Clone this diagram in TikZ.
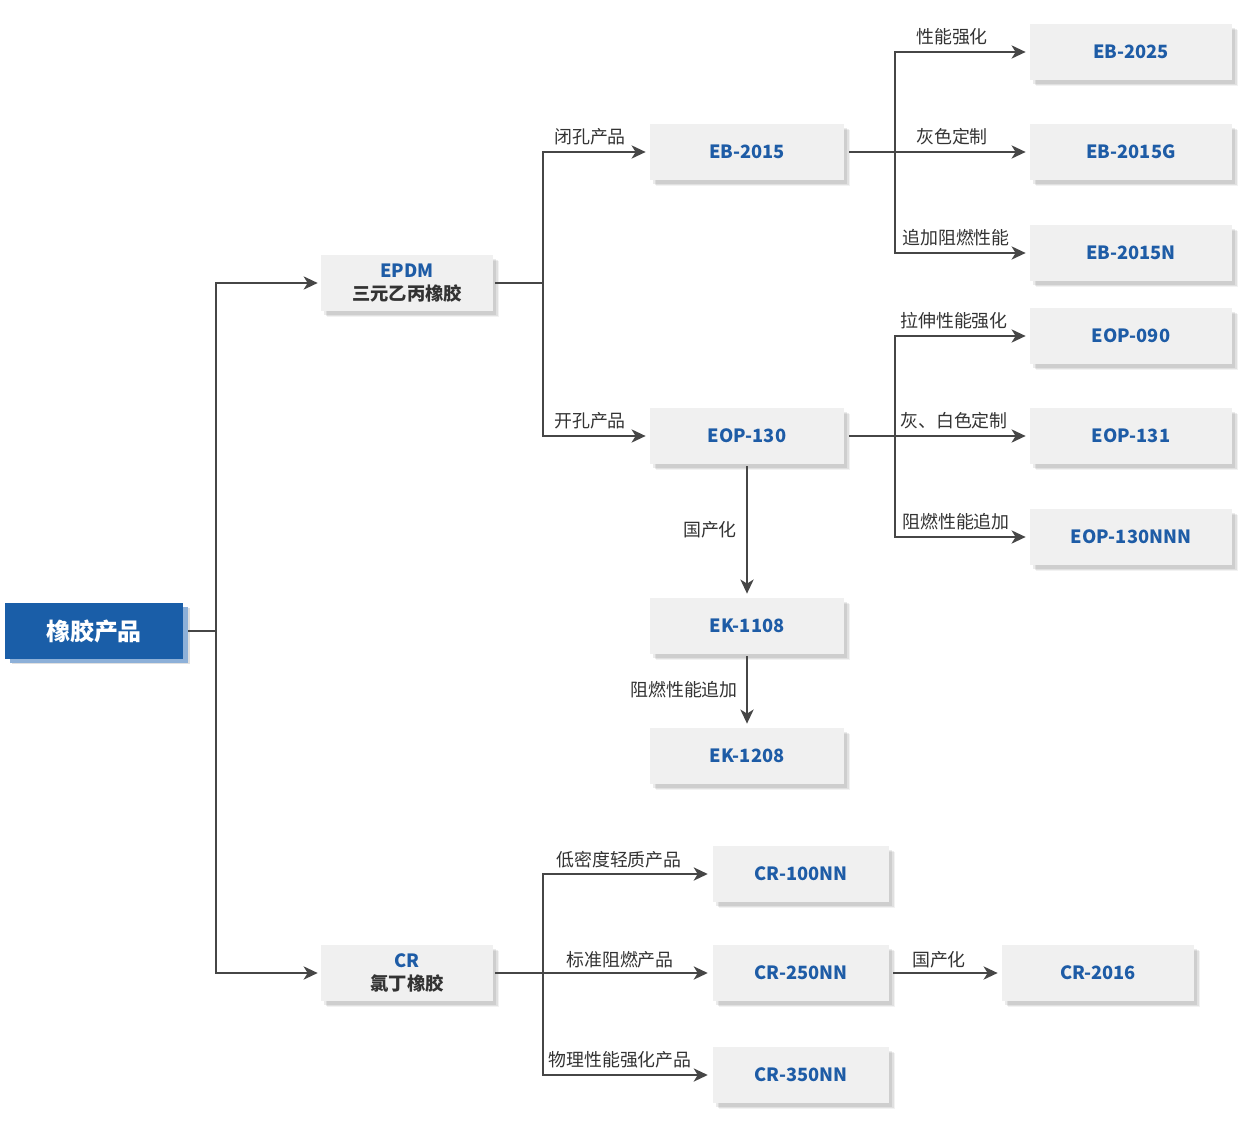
\documentclass[tikz,border=0pt]{standalone}
\usepackage{fontspec}
\setmainfont{Noto Sans CJK SC}
\usetikzlibrary{arrows.meta,shadows}
\definecolor{boxfill}{HTML}{F0F0F0}
\definecolor{bluetext}{HTML}{1E5CA6}
\definecolor{rootblue}{HTML}{1A5EA8}
\definecolor{rootshadow}{HTML}{8DB0D8}
\definecolor{linegray}{HTML}{464646}
\definecolor{labelgray}{HTML}{333333}
\begin{document}
\begin{tikzpicture}[x=0.02cm,y=-0.02cm,
  softshadow/.style={
    drop shadow={shadow xshift=3.4pt, shadow yshift=-3.6pt, opacity=0.05, fill=black},
    drop shadow={shadow xshift=2.6pt, shadow yshift=-2.8pt, opacity=0.07, fill=black},
    drop shadow={shadow xshift=1.8pt, shadow yshift=-2pt, opacity=0.08, fill=black}},
  prod/.style={fill=boxfill, minimum height=1.12cm, minimum width=3.88cm, inner sep=0pt,
    text=bluetext, font=\bfseries\fontsize{10.4}{13}\selectfont, softshadow},
  cat/.style={prod, minimum width=3.44cm, align=center},
  rootbox/.style={fill=rootblue, minimum height=1.12cm, minimum width=3.56cm, inner sep=0pt,
    text=white, font=\bfseries\fontsize{13.6}{15}\selectfont,
    drop shadow={shadow xshift=4pt, shadow yshift=-3pt, opacity=0.12, fill=black},
    drop shadow={shadow xshift=2.8pt, shadow yshift=-2.4pt, opacity=1, fill=rootshadow}},
  conn/.style={draw=linegray, line width=1.2pt, -{Stealth[length=8pt,width=7.5pt,inset=2.3pt]}},
  plain/.style={draw=linegray, line width=1.2pt},
  lbl/.style={text=labelgray, font=\fontsize{10.2}{11}\selectfont, inner sep=0pt}
]
\useasboundingbox[fill=white] (0,0) rectangle (1250,1125);

% nodes
\node[rootbox] (root) at (94,631) {橡胶产品};
\node[cat] (epdm) at (407,283) {{\color{bluetext}EPDM}\\{\color{labelgray}三元乙丙橡胶}};
\node[cat] (cr) at (407,973) {{\color{bluetext}CR}\\{\color{labelgray}氯丁橡胶}};

\node[prod] (eb2015) at (747,152) {EB-2015};
\node[prod] (eop130) at (747,436) {EOP-130};
\node[prod] (ek1108) at (747,626) {EK-1108};
\node[prod] (ek1208) at (747,756) {EK-1208};

\node[prod, minimum width=4.04cm] (eb2025) at (1131,52) {EB-2025};
\node[prod, minimum width=4.04cm] (eb2015g) at (1131,152) {EB-2015G};
\node[prod, minimum width=4.04cm] (eb2015n) at (1131,253) {EB-2015N};
\node[prod, minimum width=4.04cm] (eop090) at (1131,336) {EOP-090};
\node[prod, minimum width=4.04cm] (eop131) at (1131,436) {EOP-131};
\node[prod, minimum width=4.04cm] (eop130n) at (1131,537) {EOP-130NNN};

\node[prod, minimum width=3.52cm] (cr100) at (801,874) {CR-100NN};
\node[prod, minimum width=3.52cm] (cr250) at (801,973) {CR-250NN};
\node[prod, minimum width=3.52cm] (cr350) at (801,1075) {CR-350NN};
\node[prod, minimum width=3.84cm] (cr2016) at (1098,973) {CR-2016};

% junctions
\coordinate (j0) at (216,631);
\coordinate (j1) at (543,283);
\coordinate (j2) at (895,152);
\coordinate (j3) at (895,436);
\coordinate (j4) at (543,973);

% connectors
\draw[plain, shorten <=2.8pt] (root.east) -- (j0);
\draw[conn, shorten >=1.7pt] (j0) |- (epdm.west);
\draw[conn, shorten >=1.7pt] (j0) |- (cr.west);

\draw[plain, shorten <=1.1pt] (epdm.east) -- (j1);
\draw[conn, shorten >=2.3pt] (j1) |- (eb2015.west);
\draw[conn, shorten >=2.3pt] (j1) |- (eop130.west);

\draw[plain, shorten <=2.8pt] (eb2015.east) -- (j2);
\draw[conn, shorten >=2.3pt] (j2) |- (eb2025.west);
\draw[conn, shorten >=2.3pt] (j2) -- (eb2015g.west);
\draw[conn, shorten >=2.3pt] (j2) |- (eb2015n.west);

\draw[plain, shorten <=2.8pt] (eop130.east) -- (j3);
\draw[conn, shorten >=2.3pt] (j3) |- (eop090.west);
\draw[conn, shorten >=2.3pt] (j3) -- (eop131.west);
\draw[conn, shorten >=2.3pt] (j3) |- (eop130n.west);

\draw[conn, shorten <=1.1pt, shorten >=2.3pt] (eop130.south) -- (ek1108.north);
\draw[conn, shorten <=1.1pt, shorten >=2.3pt] (ek1108.south) -- (ek1208.north);

\draw[plain, shorten <=1.1pt] (cr.east) -- (j4);
\draw[conn, shorten >=2.8pt] (j4) |- (cr100.west);
\draw[conn, shorten >=2.8pt] (j4) -- (cr250.west);
\draw[conn, shorten >=2.8pt] (j4) |- (cr350.west);
\draw[conn, shorten <=2.3pt, shorten >=2.3pt] (cr250.east) -- (cr2016.west);

% labels
\node[lbl] (t1) at (590,137) {闭孔产品};
\node[lbl] (t2) at (590,421) {开孔产品};
\node[lbl] (t3) at (952,37) {性能强化};
\node[lbl] (t4) at (952,137) {灰色定制};
\node[lbl] (t5) at (956,238) {追加阻燃性能};
\node[lbl] (t6) at (954,321) {拉伸性能强化};
\node[lbl] (t7) at (954,421) {灰、白色定制};
\node[lbl] (t8) at (956,522) {阻燃性能追加};
\node[lbl] (t9) at (710,530) {国产化};
\node[lbl] (t10) at (684,690) {阻燃性能追加};
\node[lbl] (t11) at (619,860) {低密度轻质产品};
\node[lbl] (t12) at (620,960) {标准阻燃产品};
\node[lbl] (t13) at (620,1060) {物理性能强化产品};
\node[lbl] (t14) at (939,960) {国产化};
\end{tikzpicture}
\end{document}
